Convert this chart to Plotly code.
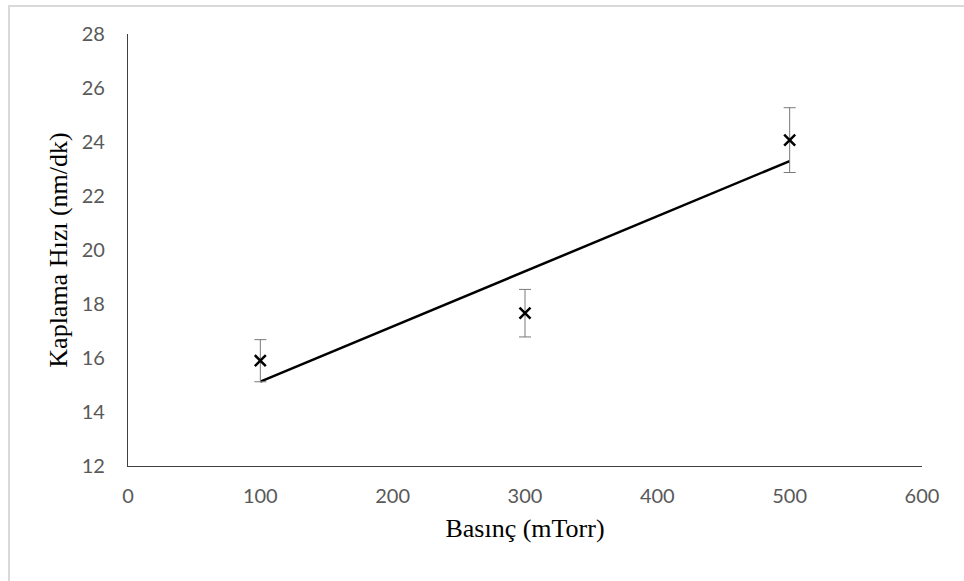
import numpy as np
import plotly.graph_objects as go

# Data
pressure = [100, 300, 500]            # mTorr
rate = [15.9, 17.66, 24.07]           # nm/dk
rate_err = [0.78, 0.88, 1.2]
x_ticks = [0, 100, 200, 300, 400, 500, 600]
y_ticks = [12, 14, 16, 18, 20, 22, 24, 26, 28]

# Linear trendline (least squares)
slope, intercept = np.polyfit(pressure, rate, 1)
trend_x = [min(pressure), max(pressure)]
trend_y = [slope * v + intercept for v in trend_x]

W, H = 964, 581
L, R, T, B = 128, 42, 34, 115
pw, ph = W - L - R, H - T - B

fig = go.Figure()
fig.add_trace(go.Scatter(
    x=trend_x, y=trend_y, mode="lines",
    line=dict(color="black", width=2.5), showlegend=False, hoverinfo="skip"))
fig.add_trace(go.Scatter(
    x=pressure, y=rate, mode="markers",
    marker=dict(symbol="x-thin", size=11, line=dict(color="black", width=2.5), color="black"),
    error_y=dict(type="data", array=rate_err, visible=True, color="#7a7a7a", thickness=1, width=6),
    showlegend=False))

def px_to_paper_x(px):
    return (px - L) / pw

def px_to_paper_y(py):
    return (H - B - py) / ph

fig.add_shape(type="rect", xref="paper", yref="paper",
              x0=px_to_paper_x(9), x1=px_to_paper_x(970),
              y0=px_to_paper_y(590), y1=px_to_paper_y(6),
              line=dict(color="#d9d9d9", width=2), fillcolor="rgba(0,0,0,0)", layer="below")

tick_font = dict(family="Lato, 'Open Sans', sans-serif", size=20, color="#595959")
title_font = dict(family="'Liberation Serif', 'Times New Roman', serif", size=26, color="black")

fig.update_layout(
    width=W, height=H,
    margin=dict(l=L, r=R, t=T, b=B),
    paper_bgcolor="white", plot_bgcolor="white",
    xaxis=dict(range=[0, 600], tickvals=x_ticks, ticktext=[str(v) for v in x_ticks],
               showgrid=False, zeroline=False, showline=True, linecolor="#404040", linewidth=1.3,
               ticks="outside", ticklen=12, tickcolor="rgba(0,0,0,0)",
               tickfont=tick_font,
               title=dict(text="Basınç (mTorr)", font=title_font, standoff=12)),
    yaxis=dict(range=[12, 28], tickvals=y_ticks, ticktext=[str(v) for v in y_ticks],
               showgrid=False, zeroline=False, showline=True, linecolor="#404040", linewidth=1.3,
               ticks="outside", ticklen=18, tickcolor="rgba(0,0,0,0)",
               tickfont=tick_font,
               title=dict(text="Kaplama Hızı (nm/dk)", font=title_font, standoff=6)),
)

fig.write_html("out.html")
